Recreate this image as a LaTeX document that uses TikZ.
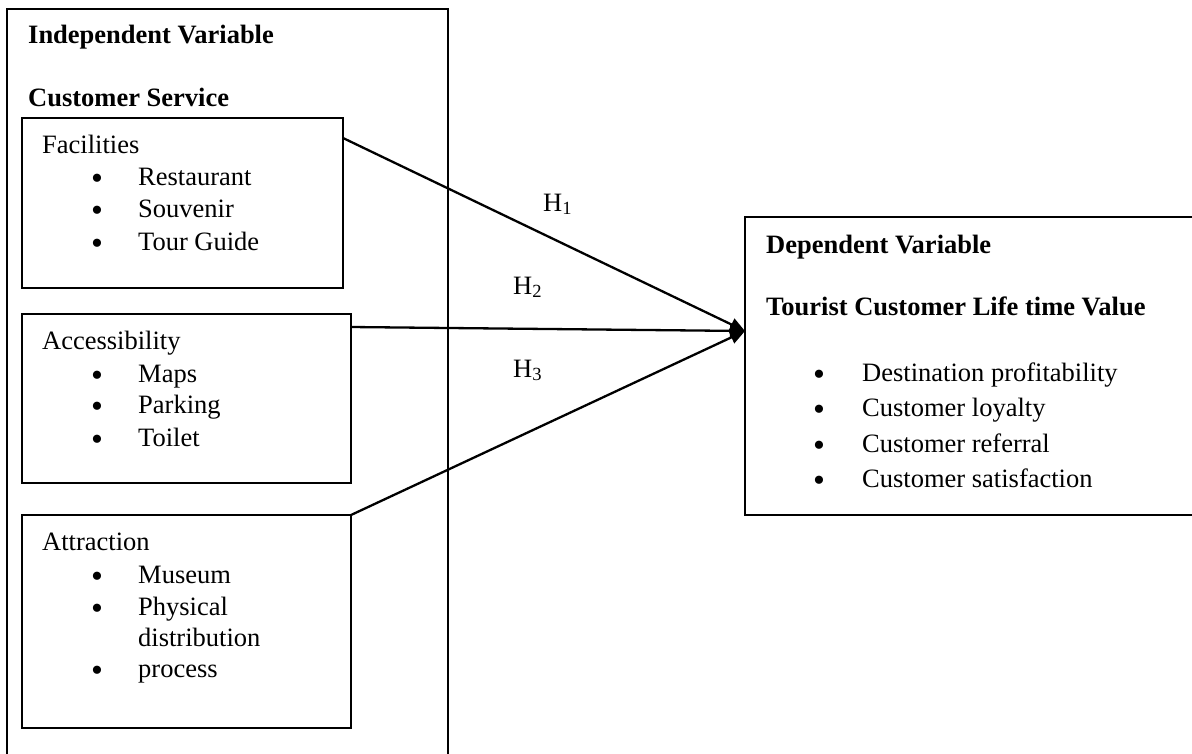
\documentclass[tikz,border=0pt]{standalone}
\usepackage{fontspec}
\setmainfont{Liberation Serif}
\usetikzlibrary{arrows.meta}
\newcommand{\bulletmark}{\smash{\textbullet}}
\begin{document}
\begin{tikzpicture}[x=1pt,y=-1pt,
  box/.style={draw, line width=1.9pt, anchor=north west, inner sep=0pt, outer sep=0pt},
  txt/.style={anchor=base west, inner sep=0pt, font=\fontsize{26.5}{32}\selectfont},
  btxt/.style={anchor=base west, inner sep=0pt, font=\fontsize{26.5}{32}\selectfont\bfseries},
  bul/.style={anchor=base, inner sep=0pt, yshift=-4pt, font=\fontsize{34}{36}\selectfont},
  arr/.style={line width=2.3pt, -{Triangle[length=15pt,width=13pt]}}]
\useasboundingbox (0,0) rectangle (1192,753);
\clip (0,0) rectangle (1192,753);
% boxes
\node[box, minimum width=441pt, minimum height=800pt] (indep) at (7,9) {};
\node[box, minimum width=321pt, minimum height=170pt] (fac) at (22,118) {};
\node[box, minimum width=329pt, minimum height=169pt] (acc) at (22,314) {};
\node[box, minimum width=329pt, minimum height=213pt] (attr) at (22,515) {};
\node[box, minimum width=500pt, minimum height=298pt] (dep) at (745,217) {};
% independent texts
\node[btxt] (t1) at (28,43) {Independent Variable};
\node[btxt] (t2) at (28,106) {Customer Service};
\node[txt] (f0) at (42,153) {Facilities};
\node[bul] (fb1) at (97,185) {\bulletmark}; \node[txt] (f1) at (138,185) {Restaurant};
\node[bul] (fb2) at (97,217) {\bulletmark}; \node[txt] (f2) at (138,217) {Souvenir};
\node[bul] (fb3) at (97,250) {\bulletmark}; \node[txt] (f3) at (138,250) {Tour Guide};
\node[txt] (a0) at (42,349) {Accessibility};
\node[bul] (ab1) at (97,382) {\bulletmark}; \node[txt] (a1) at (138,382) {Maps};
\node[bul] (ab2) at (97,413) {\bulletmark}; \node[txt] (a2) at (138,413) {Parking};
\node[bul] (ab3) at (97,446) {\bulletmark}; \node[txt] (a3) at (138,446) {Toilet};
\node[txt] (r0) at (42,550) {Attraction};
\node[bul] (rb1) at (97,583) {\bulletmark}; \node[txt] (r1) at (138,583) {Museum};
\node[bul] (rb2) at (97,615) {\bulletmark}; \node[txt] (r2) at (138,615) {Physical};
\node[txt] (r3) at (138,646) {distribution};
\node[bul] (rb4) at (97,677) {\bulletmark}; \node[txt] (r4) at (138,677) {process};
% dependent texts
\node[btxt] (d1) at (766,253) {Dependent Variable};
\node[btxt] (d2) at (766,315) {Tourist Customer Life time Value};
\node[bul] (db1) at (819,381) {\bulletmark}; \node[txt] (e1) at (862,381) {Destination profitability};
\node[bul] (db2) at (819,416) {\bulletmark}; \node[txt] (e2) at (862,416) {Customer loyalty};
\node[bul] (db3) at (819,452) {\bulletmark}; \node[txt] (e3) at (862,452) {Customer referral};
\node[bul] (db4) at (819,487) {\bulletmark}; \node[txt] (e4) at (862,487) {Customer satisfaction};
% hypotheses labels
\node[txt] (h1) at (543,211) {H\textsubscript{1}};
\node[txt] (h2) at (513,294) {H\textsubscript{2}};
\node[txt] (h3) at (513,377) {H\textsubscript{3}};
% connectors
\coordinate (tip) at (745,331);
\draw[arr] ([yshift=-20pt]fac.north east) -- (tip);
\draw[arr] ([yshift=-13pt]acc.north east) -- (tip);
\draw[arr] (attr.north east) -- (tip);
\end{tikzpicture}
\end{document}
